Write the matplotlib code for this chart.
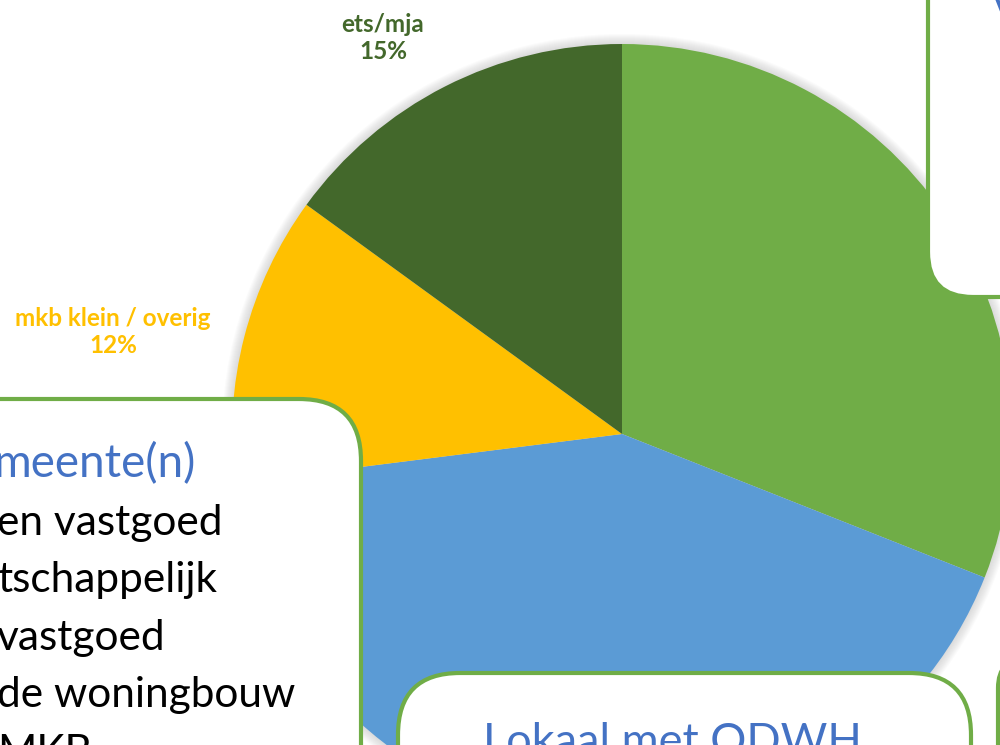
import matplotlib.pyplot as plt
from matplotlib.patches import FancyBboxPatch, Circle

plt.rcParams['font.family'] = ['Lato', 'DejaVu Sans']

# data (clockwise from 12 o'clock)
segmenten = ["", "", "mkb klein / overig", "ets/mja"]
aandeel = [31, 42, 12, 15]
kleuren = ["#70AD47", "#5B9BD5", "#FFC000", "#43682B"]

box_links = ["meente(n)", "en vastgoed", "tschappelijk", "vastgoed", "de woningbouw", "MKB"]
box_onder = "Lokaal met ODWH"

W, H = 1000, 745
groen_rand = "#70AD47"
tekst_blauw = "#4472C4"


def Y(y):
    # pixel row -> data y
    return H - y


fig = plt.figure(figsize=(10, 7.45), dpi=100)
ax = fig.add_axes([0, 0, 1, 1])

cx, cy, r = 622, Y(434), 390

# zachte schaduw rond de taart
for k in range(1, 11):
    ax.add_patch(Circle((cx, cy), r + k, color="#7f7f7f", alpha=0.028, lw=0, zorder=0))

wedges, _ = ax.pie(aandeel, colors=kleuren, startangle=90, counterclock=False,
                   center=(cx, cy), radius=r, wedgeprops=dict(linewidth=0),
                   frame=True)
for w in wedges:
    w.set_zorder(1)

# labels van de zichtbare segmenten
label_pos = {"ets/mja": (383, 38), "mkb klein / overig": (113, 332)}
for naam, v, kl in zip(segmenten, aandeel, kleuren):
    if naam in label_pos:
        x, y = label_pos[naam]
        ax.text(x, Y(y), f"{naam}\n{v}%", ha="center", va="center", color=kl,
                fontsize=17.5, fontweight="bold", linespacing=1.2, zorder=2)

# tekstvakken
def vak(x0, y0, x1, y1, rond):
    ax.add_patch(FancyBboxPatch((x0, Y(y1)), x1 - x0, y1 - y0,
                                boxstyle=f"round,pad=0,rounding_size={rond}",
                                facecolor="white", edgecolor=groen_rand,
                                linewidth=3, zorder=5))

vak(-200, 399, 361, 1000, 62)
vak(398, 673, 971, 1100, 62)
vak(928, -300, 1300, 297, 45)
vak(998, 658, 1400, 1100, 30)

regels_y = [477, 535, 592, 650, 707, 765]
for i, (tekst, y) in enumerate(zip(box_links, regels_y)):
    if i == 0:
        ax.text(-6, Y(y), tekst, ha="left", va="baseline", fontsize=33,
                color=tekst_blauw, zorder=6)
    else:
        ax.text(-3, Y(y), tekst, ha="left", va="baseline", fontsize=30.5,
                color="black", zorder=6)

ax.text(672, Y(755), box_onder, ha="center", va="baseline", fontsize=32.5,
        color=tekst_blauw, zorder=6)
ax.text(993, Y(-6), "V", ha="left", va="top", fontsize=30,
        color=tekst_blauw, zorder=6)

ax.set_aspect("auto")
ax.set_xlim(0, W)
ax.set_ylim(0, H)
ax.axis("off")

fig.savefig("out.png", dpi=100, facecolor="white")
